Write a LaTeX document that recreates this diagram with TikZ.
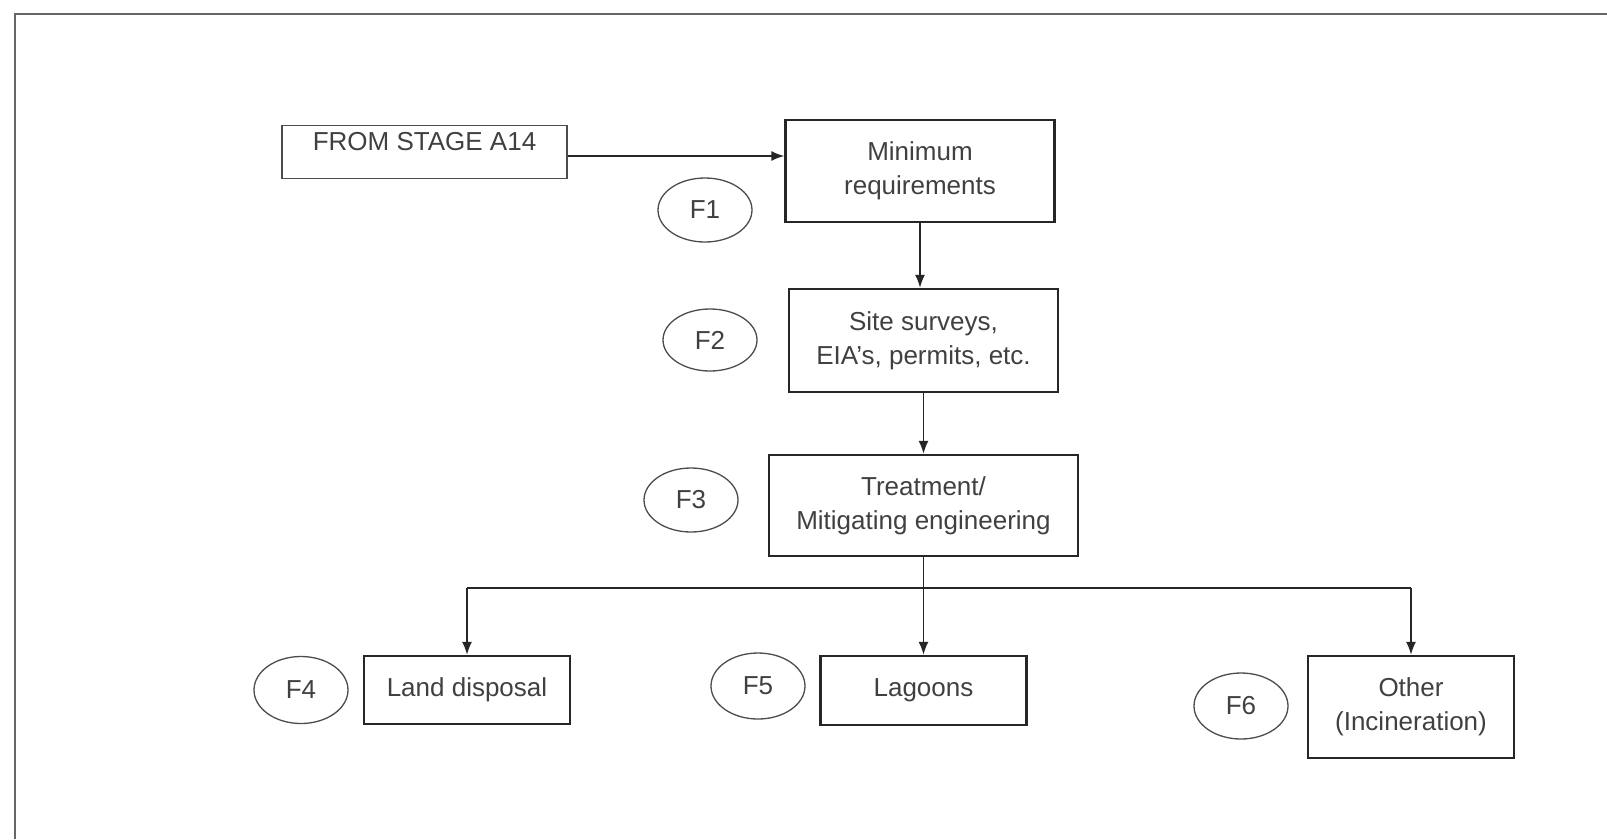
\documentclass[tikz,border=0pt]{standalone}
\usepackage{fontspec}
\setmainfont{Liberation Sans}
\usetikzlibrary{arrows.meta,shapes.geometric}
\begin{document}
\begin{tikzpicture}[x=1pt,y=-1pt,
  box/.style={draw=black!85,line width=2.4pt,text=black!75,font=\fontsize{26}{34}\selectfont,align=center,inner sep=0pt},
  thinbox/.style={draw=black!70,line width=1.4pt,text=black!75,font=\fontsize{26}{34}\selectfont,inner sep=0pt},
  fcirc/.style={draw=black!70,line width=1.3pt,ellipse,minimum width=94pt,minimum height=64pt,inner sep=0pt,text=black!75,font=\fontsize{26}{30}\selectfont},
  conn/.style={draw=black!85,line width=1.6pt,-{Latex[length=13pt,width=10pt]}},
  plain/.style={draw=black!85,line width=1.6pt},
]
\useasboundingbox (0,0) rectangle (1607,839);
\draw[black!60,line width=1.5pt] (15,839) -- (15,14) -- (1607,14);

\node[thinbox,minimum width=285pt,minimum height=53pt,text height=19pt,text depth=22pt] (from) at (424.5,152) {FROM STAGE A14};
\node[box,minimum width=269pt,minimum height=102pt] (minreq) at (920,171) {Minimum\\requirements};
\node[box,minimum width=269pt,minimum height=103pt] (site) at (923.5,340.5) {Site surveys,\\EIA's, permits, etc.};
\node[box,minimum width=309pt,minimum height=101pt] (treat) at (923.5,505.5) {Treatment/\\Mitigating engineering};
\node[box,minimum width=206pt,minimum height=68pt] (land) at (467,690) {Land disposal};
\node[box,minimum width=206pt,minimum height=69pt] (lag) at (923.5,690.5) {Lagoons};
\node[box,minimum width=206pt,minimum height=102pt] (other) at (1411,707) {Other\\(Incineration)};

\node[fcirc] (f1) at (705,210) {F1};
\node[fcirc,minimum height=62pt] (f2) at (710,340) {F2};
\node[fcirc] (f3) at (691,500) {F3};
\node[fcirc,minimum height=67pt] (f4) at (301,690) {F4};
\node[fcirc,minimum height=66pt] (f5) at (758,686) {F5};
\node[fcirc,minimum height=66pt] (f6) at (1241,706) {F6};

\coordinate (jl) at (467,588);
\coordinate (jr) at (1411,588);

\draw[conn] ([yshift=-4pt]from.east) -- ([yshift=-4pt]minreq.west |- from.east);
\draw[conn] (minreq.south) -- (minreq.south |- site.north);
\draw[conn] (site.south) -- (treat.north);
\draw[conn] (treat.south) -- (lag.north);
\draw[plain] (jl) -- (jr);
\draw[conn] (jl) -- (land.north);
\draw[conn] (jr) -- (other.north);
\end{tikzpicture}
\end{document}
